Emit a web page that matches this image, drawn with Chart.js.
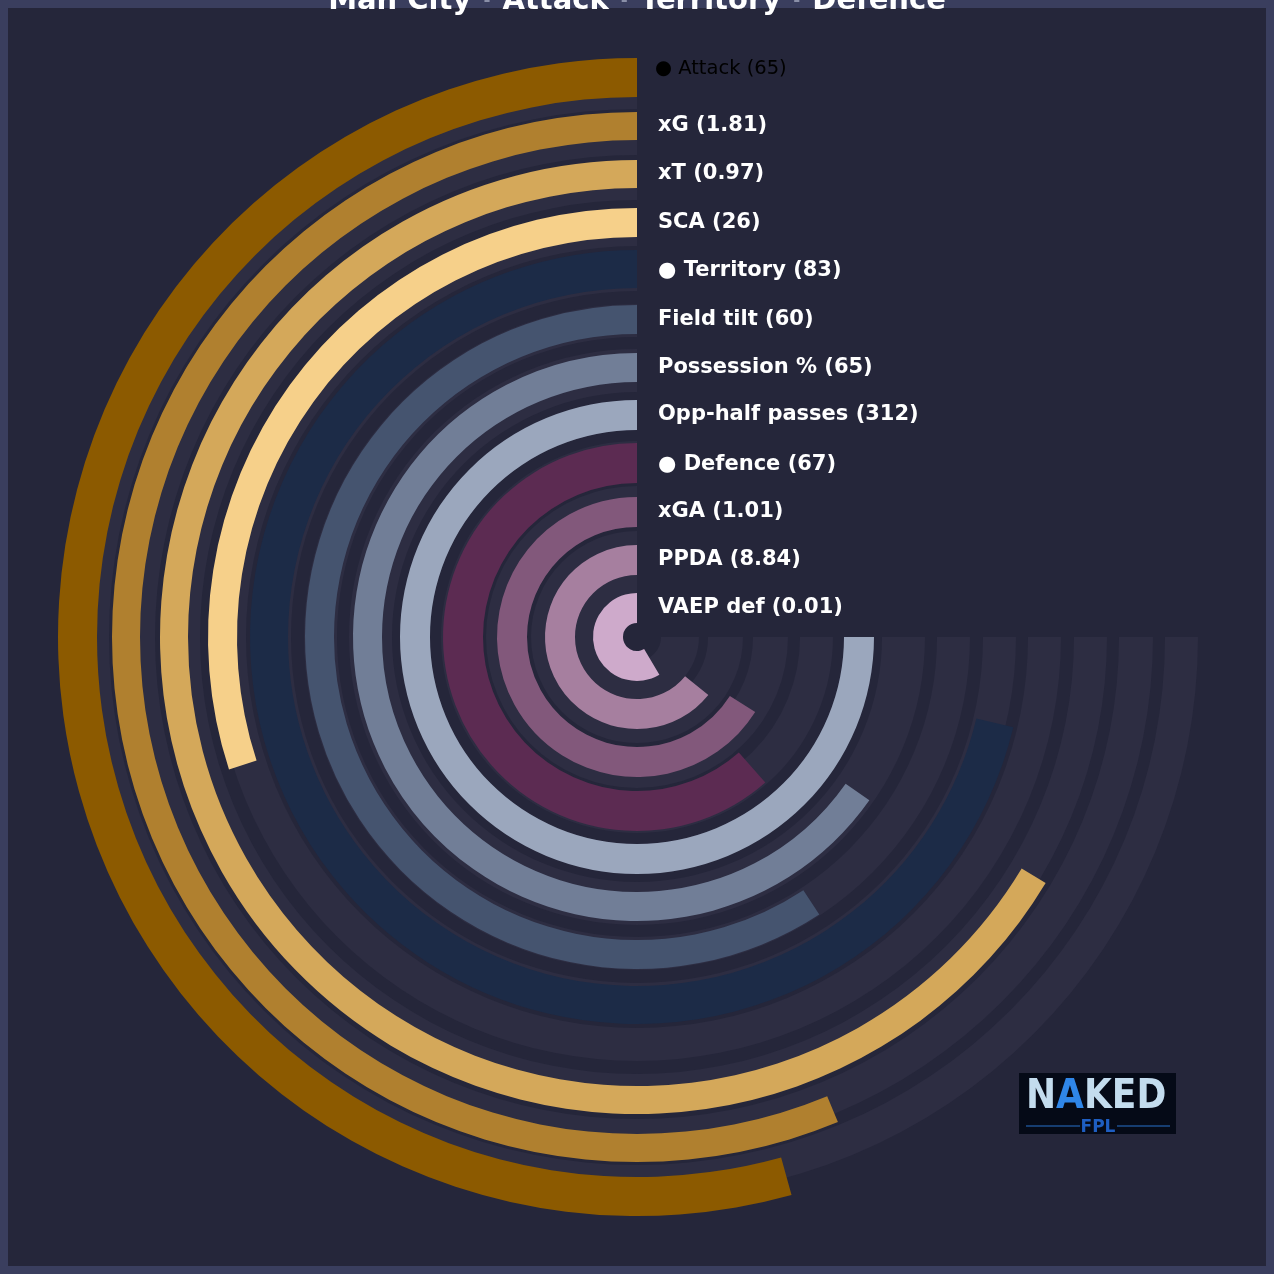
<!DOCTYPE html>
<html>
<head>
<meta charset="utf-8">
<script src="https://cdn.jsdelivr.net/npm/chart.js@4.4.1/dist/chart.umd.min.js"></script>
<style>
  html, body { margin: 0; padding: 0; background: #3a3e5e; }
  #wrap { position: relative; width: 1274px; height: 1274px; }
  #wrap canvas { position: absolute; left: 0; top: 0; }
</style>
</head>
<body>
<div id="wrap">
  <canvas id="tracks" width="1274" height="1274"></canvas>
  <canvas id="bars" width="1274" height="1274"></canvas>
</div>
<script>
// data, outermost ring first
const metrics = ['Attack', 'xG', 'xT', 'SCA', 'Territory', 'Field tilt', 'Possession %',
  'Opp-half passes', 'Defence', 'xGA', 'PPDA', 'VAEP def'];
const rawValues = ['65', '1.81', '0.97', '26', '83', '60', '65', '312', '67', '1.01', '8.84', '0.01'];
const percentiles = [72.4, 75, 88.5, 40, 95, 79, 87, 100, 82, 88, 85.5, 78];
const groupHeaders = ['Attack', 'Territory', 'Defence'];
const title = ['Man City', 'Attack', 'Territory', 'Defence'];

// styles
const barColors = ['#8c5a00', '#b0802f', '#d4a85a', '#f6d08a',
  '#1c2b47', '#45546f', '#717e97', '#9ba7bd',
  '#5c2b52', '#82587b', '#a67f9f', '#ceaacb'];
const BG = '#25263a';
const FRAME = '#3a3e5e';
const TRACK = '#2d2d42';

// ring radii in px [outer, inner]
const barRings = [[579, 540], [525, 497], [477, 449], [429, 400], [387, 349], [332, 303],
  [284, 255], [237, 207], [194, 154], [140, 110], [92, 62], [44, 14]];
const trackRings = [[561, 528], [516, 482], [470, 437], [424, 391], [379, 346], [333, 300],
  [288, 245], [236, 207], [196, 163], [151, 116], [106, 71], [62, 24]];

function buildDatasets(rings, makeRing) {
  const sets = [];
  const ringIndex = [];
  rings.forEach((r, i) => {
    if (i > 0) {
      sets.push({ data: [1], backgroundColor: ['rgba(0,0,0,0)'], weight: rings[i - 1][1] - r[0] });
    }
    ringIndex.push(sets.length);
    sets.push(Object.assign({ weight: r[0] - r[1] }, makeRing(i)));
  });
  return { sets, ringIndex };
}

function baseOptions(rings) {
  const outer = rings[0][0];
  const inner = rings[rings.length - 1][1];
  return {
    responsive: false,
    animation: false,
    rotation: 90,
    circumference: 270,
    radius: outer,
    cutout: (inner / outer * 100) + '%',
    layout: { padding: 0 },
    elements: { arc: { borderWidth: 0, hoverOffset: 0 } },
    events: [],
    plugins: { legend: { display: false }, tooltip: { enabled: false } }
  };
}

const backdrop = {
  id: 'backdrop',
  beforeDraw(chart) {
    const ctx = chart.ctx;
    ctx.save();
    ctx.fillStyle = FRAME;
    ctx.fillRect(0, 0, chart.width, chart.height);
    ctx.fillStyle = BG;
    ctx.fillRect(8, 8, chart.width - 16, chart.height - 16);
    ctx.restore();
  }
};

const trackData = buildDatasets(trackRings, () => ({ data: [100], backgroundColor: [TRACK] }));
new Chart(document.getElementById('tracks'), {
  type: 'doughnut',
  data: { labels: ['track'], datasets: trackData.sets },
  options: baseOptions(trackRings),
  plugins: [backdrop]
});

const barData = buildDatasets(barRings, i => ({
  data: [100 - percentiles[i], percentiles[i]],
  backgroundColor: ['rgba(0,0,0,0)', barColors[i]]
}));

const labelsAndDecor = {
  id: 'labelsAndDecor',
  afterDraw(chart) {
    const ctx = chart.ctx;
    ctx.save();
    // ring labels
    ctx.textBaseline = 'middle';
    ctx.textAlign = 'left';
    metrics.forEach((m, i) => {
      const arc = chart.getDatasetMeta(barData.ringIndex[i]).data[1];
      const isGroup = groupHeaders.includes(m);
      let y = arc.y - (arc.innerRadius + arc.outerRadius) / 2;
      if (isGroup) y += 2;
      const text = (isGroup ? '\u25CF ' : '') + m + ' (' + rawValues[i] + ')';
      if (i === 0) {
        ctx.font = '19.5px "DejaVu Sans"';
        ctx.fillStyle = '#000000';
        ctx.fillText(text, arc.x + 18, y - 11);
      } else {
        ctx.font = 'bold 21px "DejaVu Sans"';
        ctx.fillStyle = '#ffffff';
        ctx.fillText(text, arc.x + 21, y);
      }
    });

    // title, partly cut off at the top
    ctx.font = 'bold 29px "DejaVu Sans"';
    ctx.textBaseline = 'alphabetic';
    const sep = ' \u00B7 ';
    let total = 0;
    title.forEach((t, i) => {
      total += ctx.measureText(t).width;
      if (i < title.length - 1) total += ctx.measureText(sep).width;
    });
    let x = chart.width / 2 - total / 2;
    title.forEach((t, i) => {
      ctx.fillStyle = '#ffffff';
      ctx.fillText(t, x, 9);
      x += ctx.measureText(t).width;
      if (i < title.length - 1) {
        ctx.fillStyle = '#8a8fa8';
        ctx.fillText(sep, x, 9);
        x += ctx.measureText(sep).width;
      }
    });

    // logo
    ctx.fillStyle = '#050a17';
    ctx.fillRect(1019, 1073, 157, 61);
    ctx.font = 'bold 40px "DejaVu Sans Condensed", "DejaVu Sans"';
    ctx.textAlign = 'left';
    const letters = ['N', 'A', 'K', 'E', 'D'];
    let lx = 1026;
    letters.forEach(l => {
      ctx.fillStyle = l === 'A' ? '#2f86e8' : '#c3dcee';
      ctx.fillText(l, lx, 1108);
      lx += ctx.measureText(l).width;
    });
    ctx.strokeStyle = '#1d4f8f';
    ctx.lineWidth = 1.5;
    ctx.beginPath();
    ctx.moveTo(1026, 1126); ctx.lineTo(1080, 1126);
    ctx.moveTo(1117, 1126); ctx.lineTo(1170, 1126);
    ctx.stroke();
    ctx.font = 'bold 17px "DejaVu Sans"';
    ctx.textAlign = 'center';
    ctx.fillStyle = '#1e5ec2';
    ctx.fillText('FPL', 1098, 1132);
    ctx.restore();
  }
};

new Chart(document.getElementById('bars'), {
  type: 'doughnut',
  data: { labels: ['rest', 'value'], datasets: barData.sets },
  options: baseOptions(barRings),
  plugins: [labelsAndDecor]
});
</script>
</body>
</html>
